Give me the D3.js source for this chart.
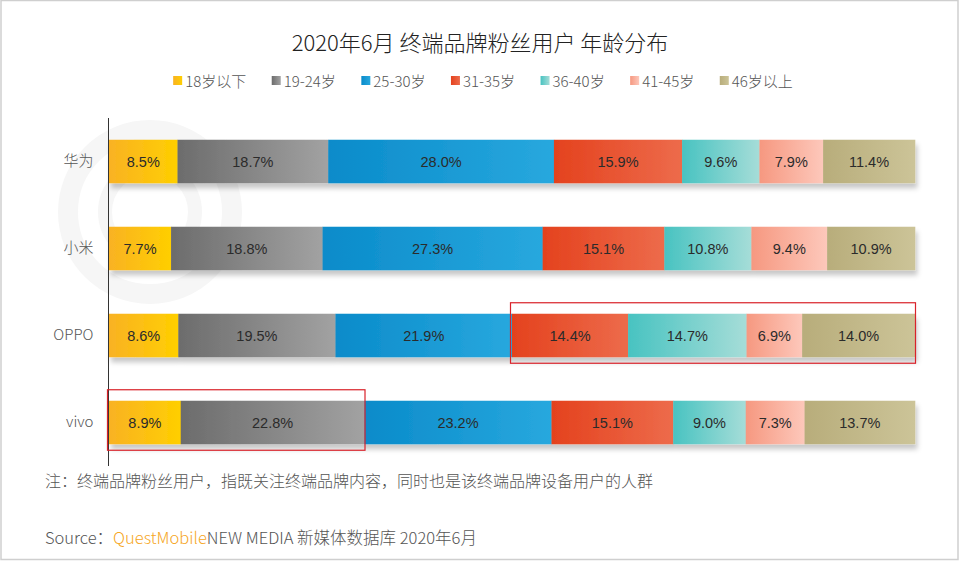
<!DOCTYPE html>
<html>
<head>
<meta charset="utf-8">
<script src="https://cdn.jsdelivr.net/npm/d3@7"></script>
<style>
  body { margin: 0; background: #fff; }
  text { font-family: "Noto Sans CJK SC", "Noto Sans", sans-serif; font-weight: 300; }
  .val { font-family: "Liberation Sans", Arial, sans-serif; font-weight: normal; }
</style>
</head>
<body>
<div class="chart"></div>
<script>
// data
var brands = ["华为", "小米", "OPPO", "vivo"];
var ageGroups = ["18岁以下", "19-24岁", "25-30岁", "31-35岁", "36-40岁", "41-45岁", "46岁以上"];
var huawei = [8.5, 18.7, 28.0, 15.9, 9.6, 7.9, 11.4];
var xiaomi = [7.7, 18.8, 27.3, 15.1, 10.8, 9.4, 10.9];
var oppo = [8.6, 19.5, 21.9, 14.4, 14.7, 6.9, 14.0];
var vivo = [8.9, 22.8, 23.2, 15.1, 9.0, 7.3, 13.7];
// highlighted ranges: [brand, first group index, last group index]
var highlights = [["OPPO", 3, 6], ["vivo", 0, 1]];

// gradient stops per age group (left -> right)
var colorStops = [
  ["#f9b223", "#ffcf00"],
  ["#6c6c6c", "#a2a2a2"],
  ["#0a8bca", "#28a8de"],
  ["#e4421e", "#ed6b4b"],
  ["#48c3c1", "#a6ddd8"],
  ["#f69880", "#fdc8bb"],
  ["#b8ad7b", "#ccc498"]
];

var svgWidth = 960;
var svgHeight = 562;

var seriesByBrand = [huawei, xiaomi, oppo, vivo];

var svg = d3.select(".chart")
  .append("svg")
  .attr("width", svgWidth)
  .attr("height", svgHeight);

var defs = svg.append("defs");

colorStops.forEach(function(c, i) {
  var g = defs.append("linearGradient")
    .attr("id", "grad" + i)
    .attr("x1", "0%").attr("x2", "100%")
    .attr("y1", "0%").attr("y2", "0%");
  g.append("stop").attr("offset", "0%").attr("stop-color", c[0]);
  g.append("stop").attr("offset", "100%").attr("stop-color", c[1]);
});

// soft shadow under each bar
var shadow = defs.append("filter")
  .attr("id", "shadow")
  .attr("x", "-5%").attr("y", "-20%")
  .attr("width", "110%").attr("height", "160%");
shadow.append("feDropShadow")
  .attr("dx", 2).attr("dy", 5)
  .attr("stdDeviation", 2.5)
  .attr("flood-color", "#000")
  .attr("flood-opacity", 0.22);

// frame
svg.append("rect")
  .attr("x", 1).attr("y", 0.5)
  .attr("width", 957).attr("height", 559)
  .attr("fill", "#fff")
  .attr("stroke", "#cfcfcf")
  .attr("stroke-width", 1.5);

// faint watermark ring
var wm = svg.append("g").attr("fill", "none").attr("stroke", "#f6f6f6");
wm.append("circle").attr("cx", 150).attr("cy", 212).attr("r", 82).attr("stroke-width", 20);
wm.append("circle").attr("cx", 150).attr("cy", 212).attr("r", 45).attr("stroke-width", 14);

// title
svg.append("text")
  .attr("x", 480)
  .attr("y", 51)
  .attr("text-anchor", "middle")
  .attr("font-size", 22)
  .attr("fill", "#222")
  .text("2020年6月 终端品牌粉丝用户 年龄分布");

// legend
var legend = svg.append("g");
var legendItems = legend.selectAll("g")
  .data(ageGroups)
  .enter()
  .append("g");

legendItems.append("rect")
  .attr("y", 76)
  .attr("width", 9)
  .attr("height", 9)
  .attr("fill", (d, i) => "url(#grad" + i + ")");

legendItems.append("text")
  .attr("x", 12)
  .attr("y", 86.5)
  .attr("font-size", 15)
  .attr("fill", "#555")
  .text(d => d);

var lx = 0;
var legendGap = 25.5;
legendItems.each(function() {
  var w = this.getBBox().width;
  d3.select(this).attr("transform", `translate(${lx}, 0)`);
  lx += w + legendGap;
});
legend.attr("transform", `translate(${483 - (lx - legendGap) / 2}, 0)`);

// scales
var xScale = d3.scaleLinear()
  .domain([0, 100])
  .range([109, 915]);

var yScale = d3.scaleBand()
  .domain(brands)
  .range([118, 466])
  .paddingInner(0.5)
  .paddingOuter(0.25);

// stack values into segments
var segments = [];
brands.forEach(function(b, bi) {
  var acc = 0;
  seriesByBrand[bi].forEach(function(v, gi) {
    segments.push({ brand: b, group: gi, x0: acc, x1: acc + v, value: v });
    acc += v;
  });
});

// bars, one group per brand so the shadow sits under the whole bar
var barGroups = svg.selectAll(".bar")
  .data(brands)
  .enter()
  .append("g")
  .classed("bar", true)
  .attr("filter", "url(#shadow)");

barGroups.selectAll("rect")
  .data(b => segments.filter(s => s.brand === b))
  .enter()
  .append("rect")
  .attr("x", d => xScale(d.x0))
  .attr("y", d => yScale(d.brand))
  .attr("width", d => xScale(d.x1) - xScale(d.x0) + 0.3)
  .attr("height", yScale.bandwidth())
  .attr("fill", d => "url(#grad" + d.group + ")");

// value labels
svg.selectAll(".val")
  .data(segments)
  .enter()
  .append("text")
  .classed("val", true)
  .attr("x", d => (xScale(d.x0) + xScale(d.x1)) / 2)
  .attr("y", d => yScale(d.brand) + yScale.bandwidth() / 2 + 5)
  .attr("text-anchor", "middle")
  .attr("font-size", 14.5)
  .attr("fill", "#2b2b2b")
  .text(d => d.value.toFixed(1) + "%");

// y axis line and brand labels
var leftAxis = d3.axisLeft(yScale).tickSize(0).tickPadding(15);
var yAxis = svg.append("g")
  .attr("transform", "translate(108.5, 0)")
  .call(leftAxis);
yAxis.select(".domain").attr("stroke", "#333").attr("d", "M0,118V466");
yAxis.selectAll("text")
  .attr("font-size", 15)
  .attr("fill", "#555")
  .style("font-family", "Noto Sans CJK SC, sans-serif");

// red highlight boxes
svg.selectAll(".hl")
  .data(highlights)
  .enter()
  .append("rect")
  .classed("hl", true)
  .attr("x", function(d) {
    var s = seriesByBrand[brands.indexOf(d[0])];
    return xScale(d3.sum(s.slice(0, d[1]))) - 1.5;
  })
  .attr("y", d => yScale(d[0]) - 11)
  .attr("width", function(d) {
    var s = seriesByBrand[brands.indexOf(d[0])];
    return xScale(d3.sum(s.slice(0, d[2] + 1))) - xScale(d3.sum(s.slice(0, d[1]))) + 2;
  })
  .attr("height", yScale.bandwidth() + 17)
  .attr("fill", "none")
  .attr("stroke", "#d9222a")
  .attr("stroke-width", 1.2);

// note
svg.append("text")
  .attr("x", 45)
  .attr("y", 487)
  .attr("font-size", 16)
  .attr("fill", "#555")
  .text("注：终端品牌粉丝用户，指既关注终端品牌内容，同时也是该终端品牌设备用户的人群");

// source
var src = svg.append("text")
  .attr("x", 45)
  .attr("y", 544)
  .attr("font-size", 16.5)
  .attr("fill", "#555");
src.append("tspan").text("Source：");
src.append("tspan").attr("fill", "#f6a623").text("QuestMobile");
src.append("tspan").text("NEW MEDIA 新媒体数据库 2020年6月");
</script>
</body>
</html>
